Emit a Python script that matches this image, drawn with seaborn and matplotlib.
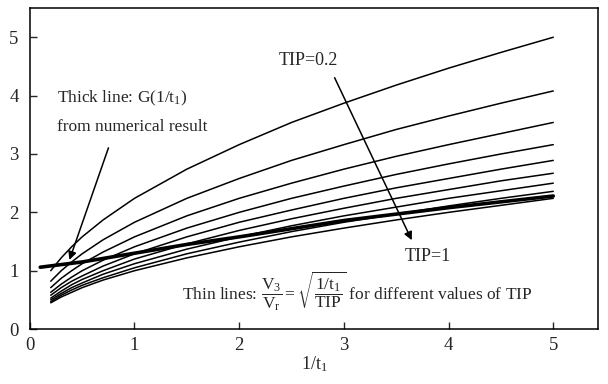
import numpy as np
import pandas as pd
import matplotlib
matplotlib.use("Agg")
import matplotlib.pyplot as plt
import seaborn as sns

# values
x_vals = [0.2, 0.3, 0.4, 0.5, 0.7, 1.0, 1.5, 2.0, 2.5, 3.0, 3.5, 4.0, 4.5, 5.0]
tip_levels = [0.2, 0.3, 0.4, 0.5, 0.6, 0.7, 0.8, 0.9, 1.0]
thin_02 = [1.00, 1.22, 1.41, 1.58, 1.87, 2.24, 2.74, 3.16, 3.54, 3.87, 4.18, 4.47, 4.74, 5.00]
thin_03 = [0.82, 1.00, 1.15, 1.29, 1.53, 1.83, 2.24, 2.58, 2.89, 3.16, 3.42, 3.65, 3.87, 4.08]
thin_04 = [0.71, 0.87, 1.00, 1.12, 1.32, 1.58, 1.94, 2.24, 2.50, 2.74, 2.96, 3.16, 3.35, 3.54]
thin_05 = [0.63, 0.77, 0.89, 1.00, 1.18, 1.41, 1.73, 2.00, 2.24, 2.45, 2.65, 2.83, 3.00, 3.16]
thin_06 = [0.58, 0.71, 0.82, 0.91, 1.08, 1.29, 1.58, 1.83, 2.04, 2.24, 2.42, 2.58, 2.74, 2.89]
thin_07 = [0.53, 0.65, 0.76, 0.85, 1.00, 1.20, 1.46, 1.69, 1.89, 2.07, 2.24, 2.39, 2.54, 2.67]
thin_08 = [0.50, 0.61, 0.71, 0.79, 0.94, 1.12, 1.37, 1.58, 1.77, 1.94, 2.09, 2.24, 2.37, 2.50]
thin_09 = [0.47, 0.58, 0.67, 0.75, 0.88, 1.05, 1.29, 1.49, 1.67, 1.83, 1.97, 2.11, 2.24, 2.36]
thin_10 = [0.45, 0.55, 0.63, 0.71, 0.84, 1.00, 1.22, 1.41, 1.58, 1.73, 1.87, 2.00, 2.12, 2.24]
thin_lines = [thin_02, thin_03, thin_04, thin_05, thin_06, thin_07, thin_08, thin_09, thin_10]

thick_x = [0.1, 0.5, 1.0, 1.5, 2.0, 2.5, 3.0, 3.5, 4.0, 4.5, 5.0]
thick_y = [1.06, 1.15, 1.30, 1.45, 1.58, 1.72, 1.86, 1.97, 2.08, 2.18, 2.28]

rows = []
for tip, vals in zip(tip_levels, thin_lines):
    for xv, yv in zip(x_vals, vals):
        rows.append({"x": xv, "y": yv, "tip": tip})
df = pd.DataFrame(rows)

sns.set_style("ticks")
plt.rcParams['font.family'] = ['Liberation Serif', 'DejaVu Serif']
plt.rcParams['mathtext.fontset'] = 'custom'
plt.rcParams['mathtext.rm'] = 'Liberation Serif'
plt.rcParams['mathtext.it'] = 'Liberation Serif:italic'

fig = plt.figure(figsize=(6.08, 3.84), dpi=100)
ax = fig.add_axes([0.049, 0.143, 0.935, 0.836])

sns.lineplot(data=df, x="x", y="y", units="tip", estimator=None,
             color="black", lw=1.1, ax=ax)
sns.lineplot(x=thick_x, y=thick_y, color="black", lw=2.6, ax=ax)

ax.set_xlim(0, 5.43)
ax.set_ylim(0, 5.5)
ax.set_xticks([0, 1, 2, 3, 4, 5])
ax.set_yticks([0, 1, 2, 3, 4, 5])
ax.tick_params(direction="in", length=5, width=1, labelsize=13.5,
               top=False, right=False)
ax.tick_params(axis="y", pad=8)
ax.tick_params(axis="x", pad=6)
for s in ax.spines.values():
    s.set_linewidth(1.1)
    s.set_color("black")
ax.set_xlabel("1/t$_1$", fontsize=13, labelpad=0)
ax.set_ylabel("")

ax.text(0.26, 3.95, "Thick line: G(1/t$_1$)", fontsize=12.5, va="center")
ax.text(0.26, 3.47, "from numerical result", fontsize=12.5, va="center")
ax.annotate("", xy=(0.37, 1.14), xytext=(0.76, 3.15),
            arrowprops=dict(arrowstyle="-|>", color="black", lw=1.1,
                            mutation_scale=12))

ax.text(2.66, 4.6, "TIP=0.2", fontsize=13, ha="center", va="center")
ax.annotate("", xy=(3.66, 1.48), xytext=(2.9, 4.35),
            arrowprops=dict(arrowstyle="-|>", color="black", lw=1.1,
                            mutation_scale=12))
ax.text(3.8, 1.24, "TIP=1", fontsize=13, ha="center", va="center")

ax.text(1.45, 0.64,
        r"Thin lines: $\dfrac{\mathrm{V_3}}{\mathrm{V_r}}=\sqrt{\dfrac{\mathrm{1/t_1}}{\mathrm{TIP}}}$ for different values of TIP",
        fontsize=12.5, va="center")

fig.savefig("out.png", dpi=100)
